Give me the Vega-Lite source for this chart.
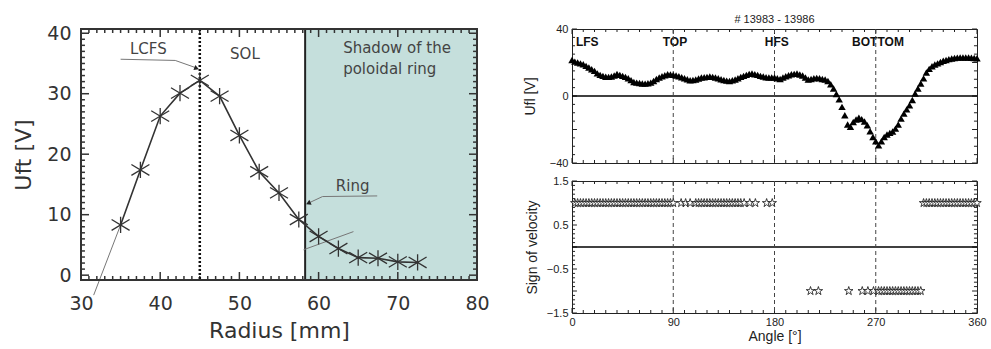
{
  "$schema": "https://vega.github.io/schema/vega-lite/v6.json",
  "background": "white",
  "padding": {"left": 12, "top": 13, "right": 3, "bottom": 3},
  "spacing": 32,
  "config": {"view": {"stroke": "#222", "strokeWidth": 1}, "axis": {"labelOverlap": false}},
  "datasets": {
    "prof": [{"r":35,"u":8.3},{"r":37.5,"u":17.4},{"r":40,"u":26.3},{"r":42.5,"u":30.1},{"r":45,"u":32.2},{"r":47.5,"u":29.6},{"r":50,"u":23.1},{"r":52.5,"u":17.1},{"r":55,"u":13.6},{"r":57.5,"u":9.2},{"r":60,"u":6.4},{"r":62.5,"u":4.4},{"r":65,"u":2.9},{"r":67.5,"u":2.8},{"r":70,"u":2.2},{"r":72.5,"u":2.1}],
    "ann": [{"id":"lcfs","o":1,"r":35.0,"u":35.7},{"id":"lcfs","o":2,"r":41.9,"u":35.5},{"id":"lcfs","o":3,"r":44.5,"u":34.3},{"id":"ring","o":1,"r":67.4,"u":13.1},{"id":"ring","o":2,"r":60.5,"u":13.0},{"id":"ring","o":3,"r":58.7,"u":11.9},{"id":"lead","o":1,"r":31.6,"u":-3.3},{"id":"lead","o":2,"r":35,"u":8.3},{"id":"a2","o":1,"r":58.1,"u":4.2},{"id":"a2","o":2,"r":64.4,"u":7.2}],
    "ltext": [{"r":38.5,"u":37.4,"t":"LCFS"},{"r":50.7,"u":36.5,"t":"SOL"},{"r":64.3,"u":14.8,"t":"Ring"}],
    "ltext2": [{"r":63.1,"u":37.5,"t":"Shadow of the"},{"r":63.1,"u":34.1,"t":"poloidal ring"}],
    "lcfs": [{"r":45}],
    "ringpos": [{"r":58.3}],
    "shadow": [{"r1":58.3,"r2":80}],
    "frameL": [{"r1":30,"r2":80,"u1":-0.8,"u2":40.7}],
    "lxt": [{"v":30,"k":"M"},{"v":31,"k":"m"},{"v":32,"k":"m"},{"v":33,"k":"m"},{"v":34,"k":"m"},{"v":35,"k":"m"},{"v":36,"k":"m"},{"v":37,"k":"m"},{"v":38,"k":"m"},{"v":39,"k":"m"},{"v":40,"k":"M"},{"v":41,"k":"m"},{"v":42,"k":"m"},{"v":43,"k":"m"},{"v":44,"k":"m"},{"v":45,"k":"m"},{"v":46,"k":"m"},{"v":47,"k":"m"},{"v":48,"k":"m"},{"v":49,"k":"m"},{"v":50,"k":"M"},{"v":51,"k":"m"},{"v":52,"k":"m"},{"v":53,"k":"m"},{"v":54,"k":"m"},{"v":55,"k":"m"},{"v":56,"k":"m"},{"v":57,"k":"m"},{"v":58,"k":"m"},{"v":59,"k":"m"},{"v":60,"k":"M"},{"v":61,"k":"m"},{"v":62,"k":"m"},{"v":63,"k":"m"},{"v":64,"k":"m"},{"v":65,"k":"m"},{"v":66,"k":"m"},{"v":67,"k":"m"},{"v":68,"k":"m"},{"v":69,"k":"m"},{"v":70,"k":"M"},{"v":71,"k":"m"},{"v":72,"k":"m"},{"v":73,"k":"m"},{"v":74,"k":"m"},{"v":75,"k":"m"},{"v":76,"k":"m"},{"v":77,"k":"m"},{"v":78,"k":"m"},{"v":79,"k":"m"},{"v":80,"k":"M"}],
    "lyt": [{"v":0,"k":"M"},{"v":1,"k":"m"},{"v":2,"k":"m"},{"v":3,"k":"m"},{"v":4,"k":"m"},{"v":5,"k":"m"},{"v":6,"k":"m"},{"v":7,"k":"m"},{"v":8,"k":"m"},{"v":9,"k":"m"},{"v":10,"k":"M"},{"v":11,"k":"m"},{"v":12,"k":"m"},{"v":13,"k":"m"},{"v":14,"k":"m"},{"v":15,"k":"m"},{"v":16,"k":"m"},{"v":17,"k":"m"},{"v":18,"k":"m"},{"v":19,"k":"m"},{"v":20,"k":"M"},{"v":21,"k":"m"},{"v":22,"k":"m"},{"v":23,"k":"m"},{"v":24,"k":"m"},{"v":25,"k":"m"},{"v":26,"k":"m"},{"v":27,"k":"m"},{"v":28,"k":"m"},{"v":29,"k":"m"},{"v":30,"k":"M"},{"v":31,"k":"m"},{"v":32,"k":"m"},{"v":33,"k":"m"},{"v":34,"k":"m"},{"v":35,"k":"m"},{"v":36,"k":"m"},{"v":37,"k":"m"},{"v":38,"k":"m"},{"v":39,"k":"m"},{"v":40,"k":"M"}],
    "rxt": [{"v":0,"k":"M"},{"v":10,"k":"m"},{"v":20,"k":"m"},{"v":30,"k":"m"},{"v":40,"k":"m"},{"v":50,"k":"m"},{"v":60,"k":"m"},{"v":70,"k":"m"},{"v":80,"k":"m"},{"v":90,"k":"M"},{"v":100,"k":"m"},{"v":110,"k":"m"},{"v":120,"k":"m"},{"v":130,"k":"m"},{"v":140,"k":"m"},{"v":150,"k":"m"},{"v":160,"k":"m"},{"v":170,"k":"m"},{"v":180,"k":"M"},{"v":190,"k":"m"},{"v":200,"k":"m"},{"v":210,"k":"m"},{"v":220,"k":"m"},{"v":230,"k":"m"},{"v":240,"k":"m"},{"v":250,"k":"m"},{"v":260,"k":"m"},{"v":270,"k":"M"},{"v":280,"k":"m"},{"v":290,"k":"m"},{"v":300,"k":"m"},{"v":310,"k":"m"},{"v":320,"k":"m"},{"v":330,"k":"m"},{"v":340,"k":"m"},{"v":350,"k":"m"},{"v":360,"k":"M"}],
    "ryt1": [{"v":-40,"k":"M"},{"v":-35,"k":"m"},{"v":-30,"k":"m"},{"v":-25,"k":"m"},{"v":-20,"k":"M"},{"v":-15,"k":"m"},{"v":-10,"k":"m"},{"v":-5,"k":"m"},{"v":0,"k":"M"},{"v":5,"k":"m"},{"v":10,"k":"m"},{"v":15,"k":"m"},{"v":20,"k":"M"},{"v":25,"k":"m"},{"v":30,"k":"m"},{"v":35,"k":"m"},{"v":40,"k":"M"}],
    "ryt2": [{"v":-1.5,"k":"M"},{"v":-1.4,"k":"m"},{"v":-1.3,"k":"m"},{"v":-1.2,"k":"m"},{"v":-1.1,"k":"m"},{"v":-1.0,"k":"M"},{"v":-0.9,"k":"m"},{"v":-0.8,"k":"m"},{"v":-0.7,"k":"m"},{"v":-0.6,"k":"m"},{"v":-0.5,"k":"M"},{"v":-0.4,"k":"m"},{"v":-0.3,"k":"m"},{"v":-0.2,"k":"m"},{"v":-0.1,"k":"m"},{"v":0,"k":"M"},{"v":0.1,"k":"m"},{"v":0.2,"k":"m"},{"v":0.3,"k":"m"},{"v":0.4,"k":"m"},{"v":0.5,"k":"M"},{"v":0.6,"k":"m"},{"v":0.7,"k":"m"},{"v":0.8,"k":"m"},{"v":0.9,"k":"m"},{"v":1.0,"k":"M"},{"v":1.1,"k":"m"},{"v":1.2,"k":"m"},{"v":1.3,"k":"m"},{"v":1.4,"k":"m"},{"v":1.5,"k":"M"}],
    "tri": [{"a":0,"u":21.5},{"a":2.5,"u":20.5},{"a":5,"u":20},{"a":7.5,"u":19.5},{"a":10,"u":19},{"a":12.5,"u":18},{"a":15,"u":17},{"a":17.5,"u":16},{"a":20,"u":15},{"a":22.5,"u":13.5},{"a":25,"u":12.6},{"a":27.5,"u":12},{"a":30,"u":11.5},{"a":32.5,"u":11.4},{"a":35,"u":11.6},{"a":37.5,"u":12.2},{"a":40,"u":13.2},{"a":42.5,"u":12.6},{"a":45,"u":12},{"a":47.5,"u":11.4},{"a":50,"u":10.6},{"a":52.5,"u":9.5},{"a":55,"u":8.4},{"a":57.5,"u":8},{"a":60,"u":7.8},{"a":62.5,"u":7.5},{"a":65,"u":7.4},{"a":67.5,"u":7.6},{"a":70,"u":8},{"a":72.5,"u":9},{"a":75,"u":10.2},{"a":77.5,"u":11},{"a":80,"u":11.8},{"a":82.5,"u":12.4},{"a":85,"u":13},{"a":87.5,"u":12.8},{"a":90,"u":12.6},{"a":92.5,"u":12.2},{"a":95,"u":11.8},{"a":97.5,"u":11.2},{"a":100,"u":10.6},{"a":102.5,"u":10},{"a":105,"u":9.4},{"a":107.5,"u":9.6},{"a":110,"u":9.8},{"a":112.5,"u":10.4},{"a":115,"u":11},{"a":117.5,"u":11.2},{"a":120,"u":11.4},{"a":122.5,"u":11.6},{"a":125,"u":11.4},{"a":127.5,"u":11},{"a":130,"u":10.6},{"a":132.5,"u":10},{"a":135,"u":9.6},{"a":137.5,"u":9.2},{"a":140,"u":9},{"a":142.5,"u":9.4},{"a":145,"u":9.8},{"a":147.5,"u":10.6},{"a":150,"u":11.4},{"a":152.5,"u":12},{"a":155,"u":12.6},{"a":157.5,"u":13.2},{"a":160,"u":13.4},{"a":162.5,"u":13},{"a":165,"u":12.6},{"a":167.5,"u":12},{"a":170,"u":11.6},{"a":172.5,"u":11.2},{"a":175,"u":11},{"a":177.5,"u":11},{"a":180,"u":11},{"a":182.5,"u":10.6},{"a":185,"u":10.2},{"a":187.5,"u":11},{"a":190,"u":11.8},{"a":192.5,"u":12.4},{"a":195,"u":13},{"a":197.5,"u":13.2},{"a":200,"u":13.4},{"a":202.5,"u":12.8},{"a":205,"u":12.2},{"a":207.5,"u":11},{"a":210,"u":9.8},{"a":212.5,"u":10.2},{"a":215,"u":10.6},{"a":217.5,"u":10.8},{"a":220,"u":10.6},{"a":222.5,"u":10.2},{"a":225,"u":9.8},{"a":227.5,"u":9},{"a":230,"u":7},{"a":232.5,"u":4.5},{"a":235,"u":1.2},{"a":237.5,"u":-2},{"a":240,"u":-6.5},{"a":242.5,"u":-11.5},{"a":245,"u":-17},{"a":247.5,"u":-18.4},{"a":250,"u":-15.5},{"a":252.5,"u":-14},{"a":255,"u":-13},{"a":257.5,"u":-13.8},{"a":260,"u":-15.2},{"a":262.5,"u":-17.5},{"a":265,"u":-21},{"a":267.5,"u":-24.5},{"a":270,"u":-27},{"a":272.5,"u":-29.5},{"a":275,"u":-27},{"a":277.5,"u":-24.5},{"a":280,"u":-23},{"a":282.5,"u":-22},{"a":285,"u":-21.2},{"a":287.5,"u":-19.5},{"a":290,"u":-17},{"a":292.5,"u":-13.5},{"a":295,"u":-10.5},{"a":297.5,"u":-8},{"a":300,"u":-5.5},{"a":302.5,"u":-2.4},{"a":305,"u":1.5},{"a":307.5,"u":4.5},{"a":310,"u":7.5},{"a":312.5,"u":10.5},{"a":315,"u":14},{"a":317.5,"u":16.2},{"a":320,"u":17.8},{"a":322.5,"u":18.8},{"a":325,"u":19.5},{"a":327.5,"u":20.3},{"a":330,"u":21},{"a":332.5,"u":21.5},{"a":335,"u":22},{"a":337.5,"u":22.4},{"a":340,"u":22.7},{"a":342.5,"u":22.9},{"a":345,"u":23},{"a":347.5,"u":23},{"a":350,"u":23},{"a":352.5,"u":23},{"a":355,"u":22.8},{"a":357.5,"u":22.7},{"a":360,"u":22.5}],
    "stars": [{"a":2.5,"s":1},{"a":5,"s":1},{"a":7.5,"s":1},{"a":10,"s":1},{"a":12.5,"s":1},{"a":15,"s":1},{"a":17.5,"s":1},{"a":20,"s":1},{"a":22.5,"s":1},{"a":25,"s":1},{"a":27.5,"s":1},{"a":30,"s":1},{"a":32.5,"s":1},{"a":35,"s":1},{"a":37.5,"s":1},{"a":40,"s":1},{"a":42.5,"s":1},{"a":45,"s":1},{"a":47.5,"s":1},{"a":50,"s":1},{"a":52.5,"s":1},{"a":55,"s":1},{"a":57.5,"s":1},{"a":60,"s":1},{"a":62.5,"s":1},{"a":65,"s":1},{"a":67.5,"s":1},{"a":70,"s":1},{"a":72.5,"s":1},{"a":75,"s":1},{"a":77.5,"s":1},{"a":80,"s":1},{"a":82.5,"s":1},{"a":85,"s":1},{"a":87.5,"s":1},{"a":90,"s":1},{"a":97,"s":1},{"a":101,"s":1},{"a":105,"s":1},{"a":110,"s":1},{"a":112.5,"s":1},{"a":115,"s":1},{"a":117.5,"s":1},{"a":120,"s":1},{"a":122.5,"s":1},{"a":125,"s":1},{"a":127.5,"s":1},{"a":130,"s":1},{"a":132.5,"s":1},{"a":135,"s":1},{"a":137.5,"s":1},{"a":140,"s":1},{"a":142.5,"s":1},{"a":145,"s":1},{"a":147.5,"s":1},{"a":150,"s":1},{"a":153,"s":1},{"a":158,"s":1},{"a":163,"s":1},{"a":173,"s":1},{"a":178,"s":1},{"a":212,"s":-1},{"a":219,"s":-1},{"a":246,"s":-1},{"a":258,"s":-1},{"a":263,"s":-1},{"a":268,"s":-1},{"a":272.5,"s":-1},{"a":275,"s":-1},{"a":277.5,"s":-1},{"a":280,"s":-1},{"a":282.5,"s":-1},{"a":285,"s":-1},{"a":287.5,"s":-1},{"a":290,"s":-1},{"a":292.5,"s":-1},{"a":295,"s":-1},{"a":297.5,"s":-1},{"a":300,"s":-1},{"a":302.5,"s":-1},{"a":305,"s":-1},{"a":307.5,"s":-1},{"a":310,"s":-1},{"a":312.5,"s":1},{"a":315,"s":1},{"a":317.5,"s":1},{"a":320,"s":1},{"a":322.5,"s":1},{"a":325,"s":1},{"a":327.5,"s":1},{"a":330,"s":1},{"a":332.5,"s":1},{"a":335,"s":1},{"a":337.5,"s":1},{"a":340,"s":1},{"a":342.5,"s":1},{"a":345,"s":1},{"a":347.5,"s":1},{"a":350,"s":1},{"a":352.5,"s":1},{"a":355,"s":1},{"a":357.5,"s":1},{"a":360,"s":1}],
    "rlab": [{"a":3.5,"u":32.4,"t":"LFS"}],
    "rlab2": [{"a":91.5,"u":32.4,"t":"TOP"},{"a":182,"u":32.4,"t":"HFS"},{"a":272,"u":32.4,"t":"BOTTOM"}],
    "vlines": [{"a":90},{"a":180},{"a":270}],
    "zero": [{"v":0}]
  },
  "hconcat": [
    {
      "vconcat": [
        {
          "width": 396, "height": 251,
          "title": {"text": " ", "font": "Liberation Sans", "fontSize": 11, "fontWeight": "normal", "offset": -2},
          "layer": [
            {"data": {"name": "shadow"}, "mark": {"type": "rect", "color": "#c5dfdc"},
             "encoding": {"x": {"field": "r1", "type": "quantitative", "scale": {"domain": [30, 80], "nice": false, "zero": false},
                                "axis": {"values": [30,40,50,60,70,80], "ticks": false, "domain": false, "grid": false, "labelFlush": false, "labelOverlap": false, "labelPadding": 14, "labelFont": "DejaVu Sans", "labelFontSize": 19, "labelColor": "#333", "title": "Radius [mm]", "titleFont": "DejaVu Sans", "titleFontSize": 22, "titleFontWeight": "normal", "titleColor": "#333", "titlePadding": 7}},
                          "x2": {"field": "r2"}}},
            {"data": {"name": "lxt"}, "transform": [{"filter": "datum.k == 'M'"}], "mark": {"type": "rule", "color": "#333", "strokeWidth": 1.5},
             "encoding": {"x": {"field": "v", "type": "quantitative"},
                          "y": {"datum": -0.8, "type": "quantitative", "scale": {"domain": [-0.8, 40.7], "nice": false, "zero": false},
                                "axis": {"values": [0,10,20,30,40], "ticks": false, "domain": false, "grid": false, "labelFlush": false, "labelOverlap": false, "labelPadding": 10, "labelFont": "DejaVu Sans", "labelFontSize": 19, "labelColor": "#333", "title": "Uft [V]", "titleFont": "DejaVu Sans", "titleFontSize": 22, "titleFontWeight": "normal", "titleColor": "#333", "titlePadding": 11}},
                          "y2": {"datum": 0.52}}},
            {"data": {"name": "lxt"}, "transform": [{"filter": "datum.k == 'm'"}], "mark": {"type": "rule", "color": "#333", "strokeWidth": 1.5},
             "encoding": {"x": {"field": "v", "type": "quantitative"}, "y": {"datum": -0.8, "type": "quantitative"}, "y2": {"datum": -0.14}}},
            {"data": {"name": "lxt"}, "transform": [{"filter": "datum.k == 'M'"}], "mark": {"type": "rule", "color": "#333", "strokeWidth": 1.5},
             "encoding": {"x": {"field": "v", "type": "quantitative"}, "y": {"datum": 40.7, "type": "quantitative"}, "y2": {"datum": 39.38}}},
            {"data": {"name": "lxt"}, "transform": [{"filter": "datum.k == 'm'"}], "mark": {"type": "rule", "color": "#333", "strokeWidth": 1.5},
             "encoding": {"x": {"field": "v", "type": "quantitative"}, "y": {"datum": 40.7, "type": "quantitative"}, "y2": {"datum": 40.04}}},
            {"data": {"name": "lyt"}, "transform": [{"filter": "datum.k == 'M'"}], "mark": {"type": "rule", "color": "#333", "strokeWidth": 1.5},
             "encoding": {"y": {"field": "v", "type": "quantitative"}, "x": {"datum": 30, "type": "quantitative"}, "x2": {"datum": 31.01}}},
            {"data": {"name": "lyt"}, "transform": [{"filter": "datum.k == 'm'"}], "mark": {"type": "rule", "color": "#333", "strokeWidth": 1.5},
             "encoding": {"y": {"field": "v", "type": "quantitative"}, "x": {"datum": 30, "type": "quantitative"}, "x2": {"datum": 30.5}}},
            {"data": {"name": "lyt"}, "transform": [{"filter": "datum.k == 'M'"}], "mark": {"type": "rule", "color": "#333", "strokeWidth": 1.5},
             "encoding": {"y": {"field": "v", "type": "quantitative"}, "x": {"datum": 80, "type": "quantitative"}, "x2": {"datum": 78.99}}},
            {"data": {"name": "lyt"}, "transform": [{"filter": "datum.k == 'm'"}], "mark": {"type": "rule", "color": "#333", "strokeWidth": 1.5},
             "encoding": {"y": {"field": "v", "type": "quantitative"}, "x": {"datum": 80, "type": "quantitative"}, "x2": {"datum": 79.5}}},
            {"data": {"name": "lcfs"}, "mark": {"type": "rule", "color": "#111", "strokeWidth": 2.5, "strokeDash": [2, 2]},
             "encoding": {"x": {"field": "r", "type": "quantitative"}}},
            {"data": {"name": "ringpos"}, "mark": {"type": "rule", "color": "#222", "strokeWidth": 2},
             "encoding": {"x": {"field": "r", "type": "quantitative"}}},
            {"data": {"name": "ann"}, "mark": {"type": "line", "color": "#777", "strokeWidth": 1},
             "encoding": {"x": {"field": "r", "type": "quantitative"}, "y": {"field": "u", "type": "quantitative"},
                          "detail": {"field": "id"}, "order": {"field": "o"}}},
            {"data": {"name": "prof"}, "mark": {"type": "line", "color": "#333", "strokeWidth": 1.6},
             "encoding": {"x": {"field": "r", "type": "quantitative"}, "y": {"field": "u", "type": "quantitative"}}},
            {"data": {"name": "prof"}, "mark": {"type": "point", "shape": "M0,-0.9L0,0.9M-1,-0.6L1,0.6M-1,0.6L1,-0.6", "size": 324, "filled": false, "stroke": "#333", "strokeWidth": 1.3, "opacity": 1},
             "encoding": {"x": {"field": "r", "type": "quantitative"}, "y": {"field": "u", "type": "quantitative"}}},
            {"data": {"values": [{"r": 44.6, "u": 34.2}]}, "mark": {"type": "point", "shape": "triangle-right", "angle": 21, "size": 30, "filled": true, "color": "#222", "opacity": 1},
             "encoding": {"x": {"field": "r", "type": "quantitative"}, "y": {"field": "u", "type": "quantitative"}}},
            {"data": {"values": [{"r": 58.7, "u": 11.9}]}, "mark": {"type": "point", "shape": "triangle-left", "angle": -24, "size": 30, "filled": true, "color": "#222", "opacity": 1},
             "encoding": {"x": {"field": "r", "type": "quantitative"}, "y": {"field": "u", "type": "quantitative"}}},
            {"data": {"name": "ltext"}, "mark": {"type": "text", "font": "DejaVu Sans", "fontSize": 15, "color": "#444", "align": "center", "baseline": "middle"},
             "encoding": {"x": {"field": "r", "type": "quantitative"}, "y": {"field": "u", "type": "quantitative"}, "text": {"field": "t"}}},
            {"data": {"name": "ltext2"}, "mark": {"type": "text", "font": "DejaVu Sans", "fontSize": 15, "color": "#444", "align": "left", "baseline": "middle"},
             "encoding": {"x": {"field": "r", "type": "quantitative"}, "y": {"field": "u", "type": "quantitative"}, "text": {"field": "t"}}},
            {"data": {"name": "frameL"}, "mark": {"type": "rect", "filled": false, "stroke": "#333", "strokeWidth": 2},
             "encoding": {"x": {"field": "r1", "type": "quantitative"}, "x2": {"field": "r2"},
                          "y": {"field": "u1", "type": "quantitative"}, "y2": {"field": "u2"}}}
          ]
        }
      ]
    },
    {
      "spacing": 5,
      "vconcat": [
        {
          "width": 405, "height": 134,
          "title": {"text": "# 13983 - 13986", "font": "Liberation Sans", "fontSize": 11, "fontWeight": "normal", "color": "#222", "offset": -2},
          "layer": [
            {"data": {"name": "rxt"}, "transform": [{"filter": "datum.k == 'M'"}], "mark": {"type": "rule", "color": "#222", "strokeWidth": 1},
             "encoding": {"x": {"field": "v", "type": "quantitative", "scale": {"domain": [0, 360], "nice": false, "zero": false}, "axis": null},
                          "y": {"datum": -40, "type": "quantitative", "scale": {"domain": [-40, 40], "nice": false, "zero": false},
                                "axis": {"values": [-40,-20,0,20,40], "ticks": false, "domain": false, "grid": false, "labelFlush": false, "labelOverlap": false, "labelPadding": 4, "labelFont": "Liberation Sans", "labelFontSize": 11, "labelColor": "#222", "title": "Ufl [V]", "titleFont": "Liberation Sans", "titleFontSize": 14, "titleFontWeight": "normal", "titleColor": "#222", "titlePadding": 12}},
                          "y2": {"datum": -37}}},
            {"data": {"name": "rxt"}, "transform": [{"filter": "datum.k == 'm'"}], "mark": {"type": "rule", "color": "#222", "strokeWidth": 1},
             "encoding": {"x": {"field": "v", "type": "quantitative"}, "y": {"datum": -40, "type": "quantitative"}, "y2": {"datum": -38.2}}},
            {"data": {"name": "rxt"}, "transform": [{"filter": "datum.k == 'M'"}], "mark": {"type": "rule", "color": "#222", "strokeWidth": 1},
             "encoding": {"x": {"field": "v", "type": "quantitative"}, "y": {"datum": 40, "type": "quantitative"}, "y2": {"datum": 37}}},
            {"data": {"name": "rxt"}, "transform": [{"filter": "datum.k == 'm'"}], "mark": {"type": "rule", "color": "#222", "strokeWidth": 1},
             "encoding": {"x": {"field": "v", "type": "quantitative"}, "y": {"datum": 40, "type": "quantitative"}, "y2": {"datum": 38.2}}},
            {"data": {"name": "ryt1"}, "transform": [{"filter": "datum.k == 'M'"}], "mark": {"type": "rule", "color": "#222", "strokeWidth": 1},
             "encoding": {"y": {"field": "v", "type": "quantitative"}, "x": {"datum": 0, "type": "quantitative"}, "x2": {"datum": 4.4}}},
            {"data": {"name": "ryt1"}, "transform": [{"filter": "datum.k == 'm'"}], "mark": {"type": "rule", "color": "#222", "strokeWidth": 1},
             "encoding": {"y": {"field": "v", "type": "quantitative"}, "x": {"datum": 0, "type": "quantitative"}, "x2": {"datum": 2.7}}},
            {"data": {"name": "ryt1"}, "transform": [{"filter": "datum.k == 'M'"}], "mark": {"type": "rule", "color": "#222", "strokeWidth": 1},
             "encoding": {"y": {"field": "v", "type": "quantitative"}, "x": {"datum": 360, "type": "quantitative"}, "x2": {"datum": 355.6}}},
            {"data": {"name": "ryt1"}, "transform": [{"filter": "datum.k == 'm'"}], "mark": {"type": "rule", "color": "#222", "strokeWidth": 1},
             "encoding": {"y": {"field": "v", "type": "quantitative"}, "x": {"datum": 360, "type": "quantitative"}, "x2": {"datum": 357.3}}},
            {"data": {"name": "zero"}, "mark": {"type": "rule", "color": "black", "strokeWidth": 1.3},
             "encoding": {"y": {"field": "v", "type": "quantitative"}}},
            {"data": {"name": "rlab"}, "mark": {"type": "text", "font": "Liberation Sans", "fontSize": 12, "fontWeight": "bold", "color": "#111", "align": "left", "baseline": "middle"},
             "encoding": {"x": {"field": "a", "type": "quantitative"}, "y": {"field": "u", "type": "quantitative"}, "text": {"field": "t"}}},
            {"data": {"name": "rlab2"}, "mark": {"type": "text", "font": "Liberation Sans", "fontSize": 12, "fontWeight": "bold", "color": "#111", "align": "center", "baseline": "middle"},
             "encoding": {"x": {"field": "a", "type": "quantitative"}, "y": {"field": "u", "type": "quantitative"}, "text": {"field": "t"}}},
            {"data": {"name": "vlines"}, "mark": {"type": "rule", "color": "#444", "strokeWidth": 1, "strokeDash": [4, 3]},
             "encoding": {"x": {"field": "a", "type": "quantitative"}}},
            {"data": {"name": "tri"}, "mark": {"type": "point", "shape": "triangle-up", "size": 55, "filled": true, "color": "black", "opacity": 1},
             "encoding": {"x": {"field": "a", "type": "quantitative"}, "y": {"field": "u", "type": "quantitative"}}}
          ]
        },
        {
          "width": 405, "height": 132,
          "layer": [
            {"data": {"name": "rxt"}, "transform": [{"filter": "datum.k == 'M'"}], "mark": {"type": "rule", "color": "#222", "strokeWidth": 1},
             "encoding": {"x": {"field": "v", "type": "quantitative", "scale": {"domain": [0, 360], "nice": false, "zero": false},
                                "axis": {"values": [0,90,180,270,360], "ticks": false, "domain": false, "grid": false, "labelFlush": false, "labelOverlap": false, "labelPadding": 3, "labelFont": "Liberation Sans", "labelFontSize": 11, "labelColor": "#222", "title": "Angle [°]", "titleFont": "Liberation Sans", "titleFontSize": 14, "titleFontWeight": "normal", "titleColor": "#222", "titlePadding": 2}},
                          "y": {"datum": -1.5, "type": "quantitative", "scale": {"domain": [-1.5, 1.5], "nice": false, "zero": false},
                                "axis": {"values": [-1.5,-1,-0.5,0,0.5,1,1.5], "format": ".1f", "ticks": false, "domain": false, "grid": false, "labelFlush": false, "labelOverlap": false, "labelPadding": 4, "labelFont": "Liberation Sans", "labelFontSize": 11, "labelColor": "#222", "title": "Sign of velocity", "titleFont": "Liberation Sans", "titleFontSize": 14, "titleFontWeight": "normal", "titleColor": "#222", "titlePadding": 7}},
                          "y2": {"datum": -1.386}}},
            {"data": {"name": "rxt"}, "transform": [{"filter": "datum.k == 'm'"}], "mark": {"type": "rule", "color": "#222", "strokeWidth": 1},
             "encoding": {"x": {"field": "v", "type": "quantitative"}, "y": {"datum": -1.5, "type": "quantitative"}, "y2": {"datum": -1.432}}},
            {"data": {"name": "rxt"}, "transform": [{"filter": "datum.k == 'M'"}], "mark": {"type": "rule", "color": "#222", "strokeWidth": 1},
             "encoding": {"x": {"field": "v", "type": "quantitative"}, "y": {"datum": 1.5, "type": "quantitative"}, "y2": {"datum": 1.386}}},
            {"data": {"name": "rxt"}, "transform": [{"filter": "datum.k == 'm'"}], "mark": {"type": "rule", "color": "#222", "strokeWidth": 1},
             "encoding": {"x": {"field": "v", "type": "quantitative"}, "y": {"datum": 1.5, "type": "quantitative"}, "y2": {"datum": 1.432}}},
            {"data": {"name": "ryt2"}, "transform": [{"filter": "datum.k == 'M'"}], "mark": {"type": "rule", "color": "#222", "strokeWidth": 1},
             "encoding": {"y": {"field": "v", "type": "quantitative"}, "x": {"datum": 0, "type": "quantitative"}, "x2": {"datum": 4.4}}},
            {"data": {"name": "ryt2"}, "transform": [{"filter": "datum.k == 'm'"}], "mark": {"type": "rule", "color": "#222", "strokeWidth": 1},
             "encoding": {"y": {"field": "v", "type": "quantitative"}, "x": {"datum": 0, "type": "quantitative"}, "x2": {"datum": 2.7}}},
            {"data": {"name": "ryt2"}, "transform": [{"filter": "datum.k == 'M'"}], "mark": {"type": "rule", "color": "#222", "strokeWidth": 1},
             "encoding": {"y": {"field": "v", "type": "quantitative"}, "x": {"datum": 360, "type": "quantitative"}, "x2": {"datum": 355.6}}},
            {"data": {"name": "ryt2"}, "transform": [{"filter": "datum.k == 'm'"}], "mark": {"type": "rule", "color": "#222", "strokeWidth": 1},
             "encoding": {"y": {"field": "v", "type": "quantitative"}, "x": {"datum": 360, "type": "quantitative"}, "x2": {"datum": 357.3}}},
            {"data": {"name": "zero"}, "mark": {"type": "rule", "color": "black", "strokeWidth": 1.3},
             "encoding": {"y": {"field": "v", "type": "quantitative"}}},
            {"data": {"name": "vlines"}, "mark": {"type": "rule", "color": "#444", "strokeWidth": 1, "strokeDash": [4, 3]},
             "encoding": {"x": {"field": "a", "type": "quantitative"}}},
            {"data": {"name": "stars"}, "mark": {"type": "point", "shape": "M0,-1L0.225,-0.309L0.951,-0.309L0.363,0.118L0.588,0.809L0,0.382L-0.588,0.809L-0.363,0.118L-0.951,-0.309L-0.225,-0.309Z", "size": 80, "filled": true, "fill": "white", "stroke": "#111", "strokeWidth": 0.8, "opacity": 1},
             "encoding": {"x": {"field": "a", "type": "quantitative"}, "y": {"field": "s", "type": "quantitative"}}}
          ]
        }
      ]
    }
  ]
}
